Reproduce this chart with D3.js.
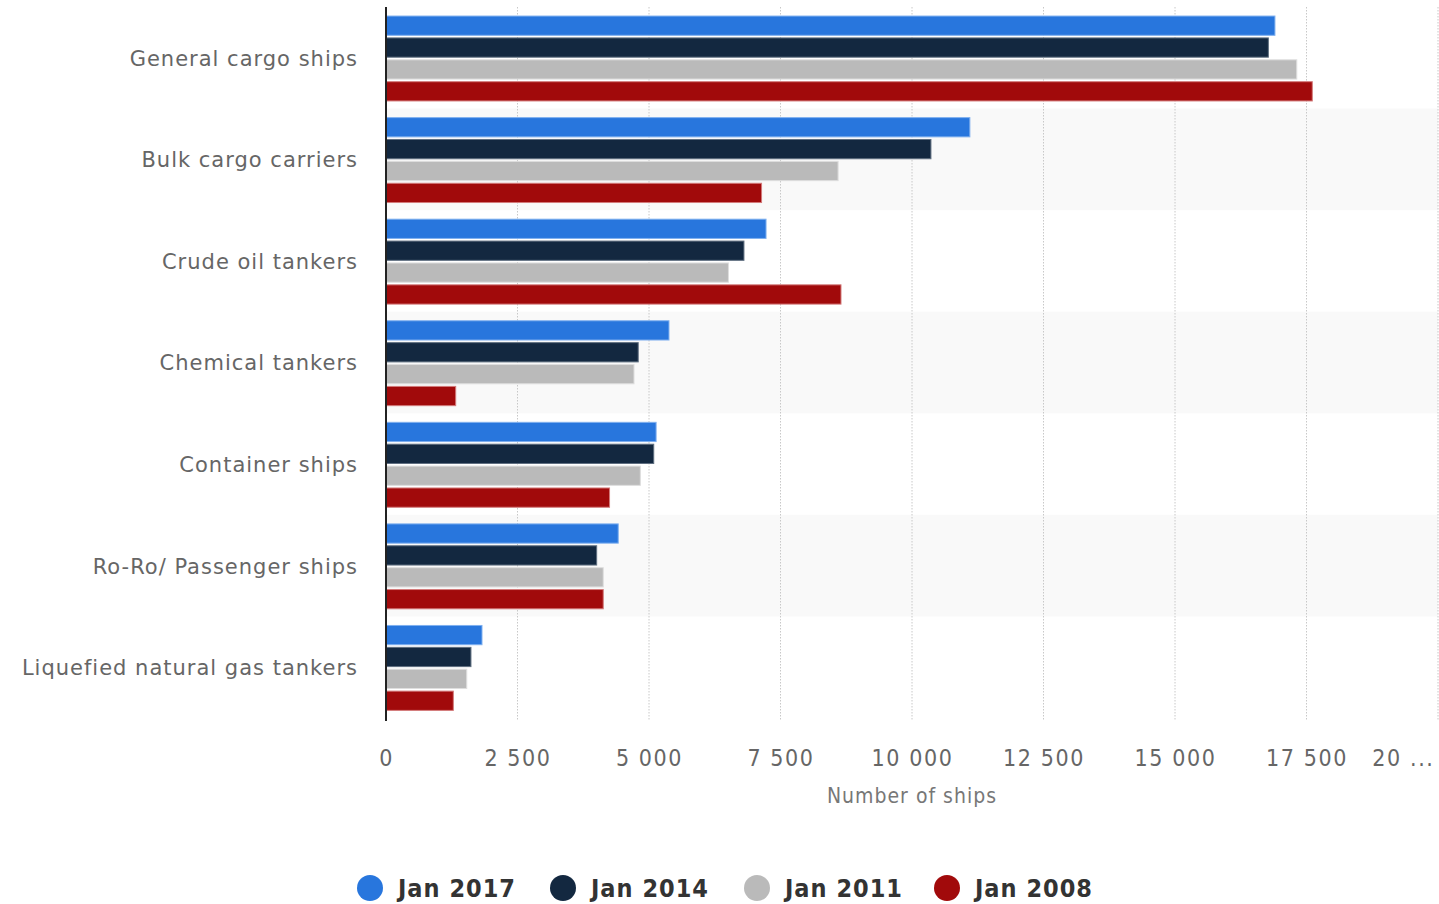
<!DOCTYPE html>
<html>
<head>
<meta charset="utf-8">
<script src="https://cdn.jsdelivr.net/npm/d3@7"></script>
<style>
  html, body { margin: 0; padding: 0; background: #fff; }
  svg { display: block; }
</style>
</head>
<body>
<svg id="chart" width="1439" height="904"></svg>
<script>
// Ship types (rows, top to bottom)
const categories = [
  "General cargo ships",
  "Bulk cargo carriers",
  "Crude oil tankers",
  "Chemical tankers",
  "Container ships",
  "Ro-Ro/ Passenger ships",
  "Liquefied natural gas tankers"
];

// Series names, in drawing order within each row
const seriesNames = ["Jan 2017", "Jan 2014", "Jan 2011", "Jan 2008"];

// Number of ships per series, one value per category
const jan2017 = [16900, 11100, 7225, 5380, 5135, 4415, 1825];
const jan2014 = [16775, 10360, 6805, 4795, 5090, 4005, 1615];
const jan2011 = [17315, 8595, 6510, 4715, 4835, 4130, 1535];
const jan2008 = [17610, 7140, 8650, 1325, 4250, 4130, 1280];

// x-axis ticks and their labels
const xTicks = [0, 2500, 5000, 7500, 10000, 12500, 15000, 17500, 20000];
const xTickLabels = ["0", "2 500", "5 000", "7 500", "10 000", "12 500", "15 000", "17 500", "20 ..."];

const seriesValues = [jan2017, jan2014, jan2011, jan2008];
const colors = ["#2876dd", "#132840", "#bababa", "#a10a0b"];
const strokes = ["#7fb0ef", "#5f6f80", "#dedede", "#d37a7a"];

const svg = d3.select("#chart");
const plotLeft = 386, plotRight = 1438, plotTop = 7, plotBottom = 718;

const x = d3.scaleLinear().domain([0, 20000]).range([plotLeft, plotRight]);
const y = d3.scaleBand().domain(categories).range([plotTop, plotBottom]).padding(0);
const bw = y.bandwidth();
const ys = d3.scaleBand().domain(seriesNames).range([bw * 0.089, bw * 0.925]).paddingInner(0.12);

// Alternating row shading
svg.append("g").selectAll("rect")
  .data(categories.filter((d, i) => i % 2 === 1))
  .join("rect")
  .attr("x", plotLeft)
  .attr("y", d => y(d))
  .attr("width", plotRight - plotLeft)
  .attr("height", bw)
  .attr("fill", "#f9f9f9");

// Dotted vertical grid lines
svg.append("g").selectAll("line")
  .data(xTicks.slice(1))
  .join("line")
  .attr("x1", d => x(d)).attr("x2", d => x(d))
  .attr("y1", plotTop).attr("y2", plotBottom + 2)
  .attr("stroke", "#c8c8c8")
  .attr("stroke-width", 1)
  .attr("stroke-dasharray", "1.5,1.5");

// Bars
const rows = svg.append("g").selectAll("g")
  .data(categories)
  .join("g")
  .attr("transform", d => `translate(0,${y(d)})`);

rows.selectAll("rect")
  .data((c, ci) => seriesNames.map((s, si) => ({ s, si, v: seriesValues[si][ci] })))
  .join("rect")
  .attr("x", x(0))
  .attr("y", d => ys(d.s))
  .attr("width", d => x(d.v) - x(0))
  .attr("height", ys.bandwidth())
  .attr("fill", d => colors[d.si])
  .attr("stroke", d => strokes[d.si])
  .attr("stroke-width", 1);

// Category axis
const yAxis = d3.axisLeft(y).tickSize(0).tickPadding(28);
const yG = svg.append("g").attr("transform", `translate(${plotLeft},0)`).call(yAxis);
yG.select(".domain").remove();
yG.selectAll("text")
  .attr("font-family", "DejaVu Sans, sans-serif")
  .attr("font-size", 21)
  .attr("letter-spacing", "1px")
  .attr("dy", "0.38em")
  .attr("fill", "#666");

svg.append("line")
  .attr("x1", plotLeft).attr("x2", plotLeft)
  .attr("y1", plotTop).attr("y2", plotBottom + 3)
  .attr("stroke", "#222")
  .attr("stroke-width", 2);

// Value axis
const xAxis = d3.axisBottom(x).tickValues(xTicks).tickSize(0).tickPadding(0)
  .tickFormat((d, i) => xTickLabels[i]);
const xG = svg.append("g").attr("transform", `translate(0,${plotBottom})`).call(xAxis);
xG.select(".domain").remove();
xG.selectAll("text")
  .attr("y", 48)
  .attr("dy", 0)
  .attr("font-family", "DejaVu Sans Condensed, DejaVu Sans, sans-serif")
  .attr("font-size", 23)
  .attr("letter-spacing", "1.6px")
  .attr("fill", "#666");
// The last label would run past the right edge, so it ends at the edge instead
xG.selectAll(".tick").filter(d => d === xTicks[xTicks.length - 1]).select("text")
  .attr("text-anchor", "end")
  .attr("x", -4);

svg.append("text")
  .attr("x", (plotLeft + plotRight) / 2)
  .attr("y", 803)
  .attr("text-anchor", "middle")
  .attr("font-family", "DejaVu Sans Condensed, DejaVu Sans, sans-serif")
  .attr("font-size", 21)
  .attr("letter-spacing", "1px")
  .attr("fill", "#777")
  .text("Number of ships");

// Legend
const legendX = [370, 563, 757, 947];
const legend = svg.append("g").selectAll("g")
  .data(seriesNames)
  .join("g")
  .attr("transform", (d, i) => `translate(${legendX[i]},888)`);
legend.append("circle")
  .attr("r", 13)
  .attr("fill", (d, i) => colors[i]);
legend.append("text")
  .attr("x", 28)
  .attr("y", 9)
  .attr("font-family", "DejaVu Sans Condensed, DejaVu Sans, sans-serif")
  .attr("font-weight", "bold")
  .attr("font-size", 25)
  .attr("letter-spacing", "1px")
  .attr("fill", "#333")
  .text(d => d);
</script>
</body>
</html>
